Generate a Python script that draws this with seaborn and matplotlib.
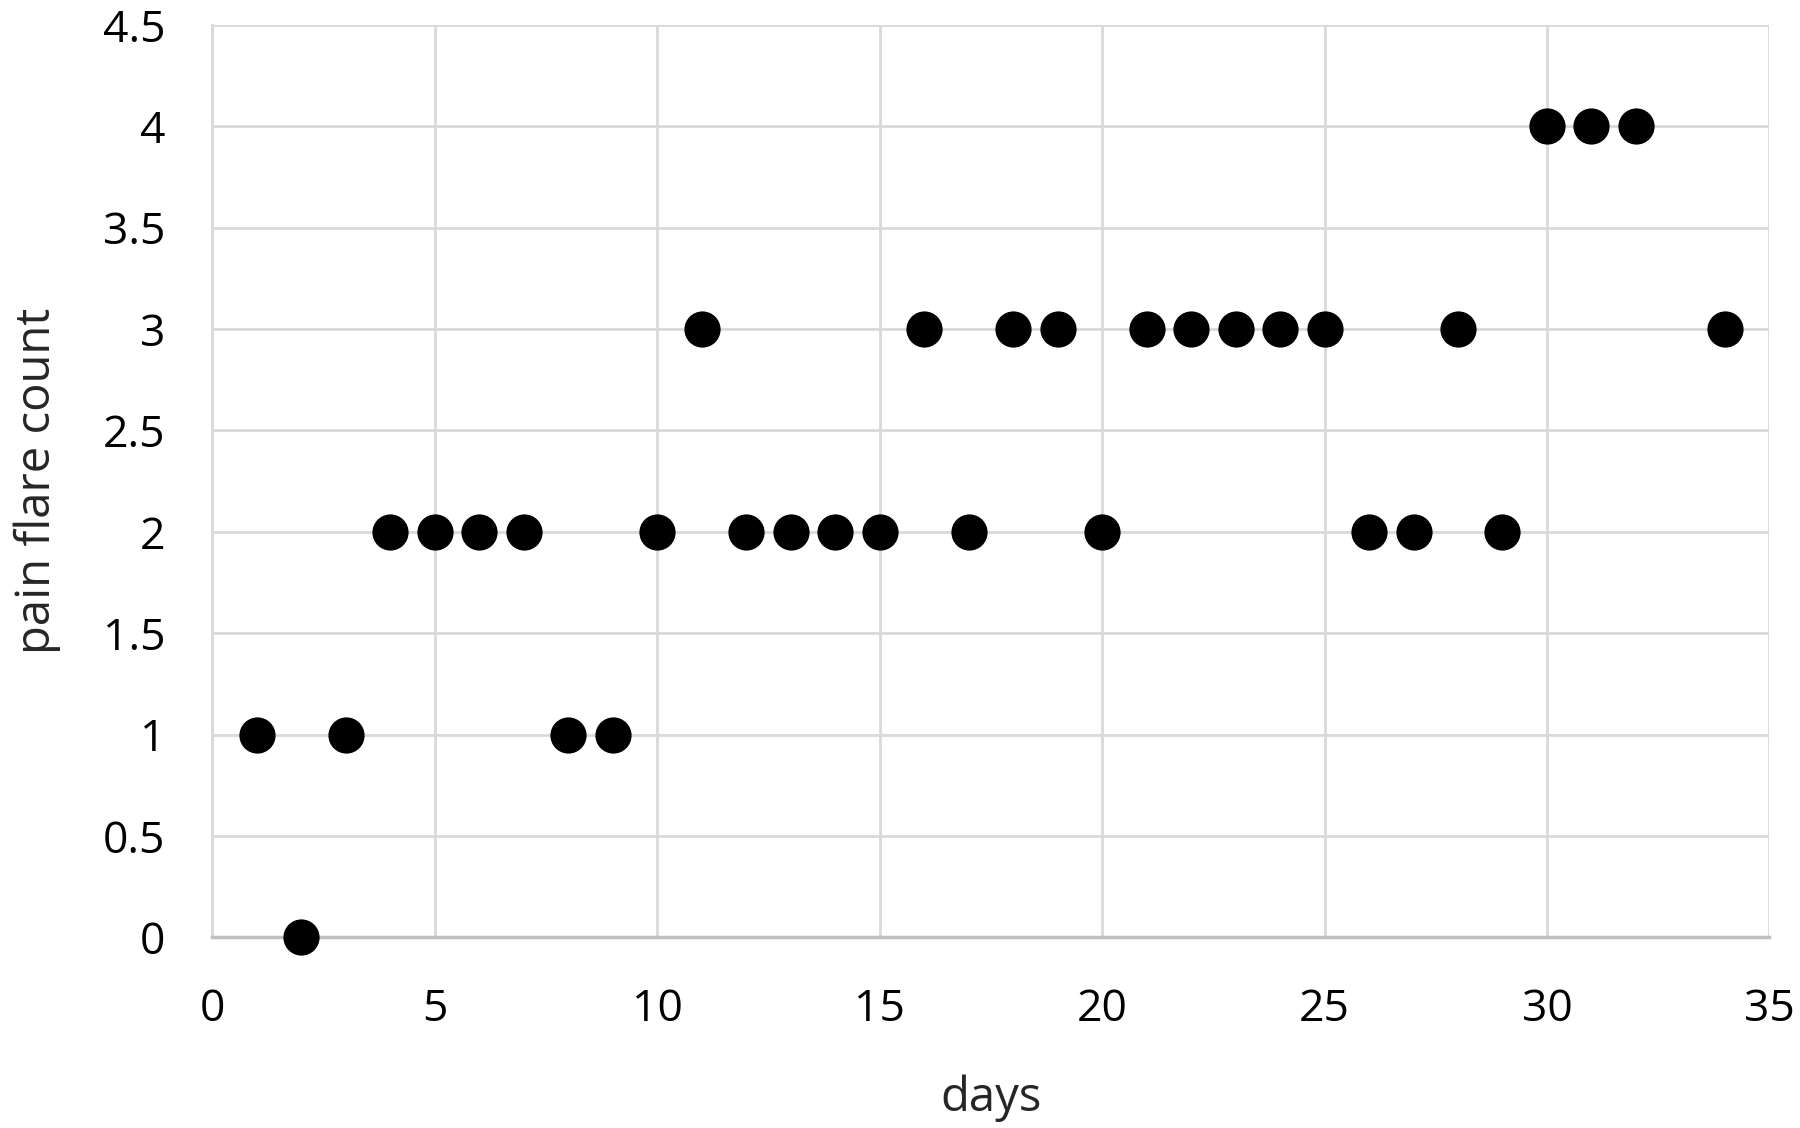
import matplotlib
matplotlib.use("Agg")
import matplotlib.pyplot as plt
import seaborn as sns
import pandas as pd

days = [1, 2, 3, 4, 5, 6, 7, 8, 9, 10, 11, 12, 13, 14, 15, 16, 17,
        18, 19, 20, 21, 22, 23, 24, 25, 26, 27, 28, 29, 30, 31, 32, 34]
flares = [1, 0, 1, 2, 2, 2, 2, 1, 1, 2, 3, 2, 2, 2, 2, 3, 2,
          3, 3, 2, 3, 3, 3, 3, 3, 2, 2, 3, 2, 4, 4, 4, 3]
x_ticks = [0, 5, 10, 15, 20, 25, 30, 35]
y_ticks = [0, 0.5, 1, 1.5, 2, 2.5, 3, 3.5, 4, 4.5]
y_tick_labels = ["0", "0.5", "1", "1.5", "2", "2.5", "3", "3.5", "4", "4.5"]

df = pd.DataFrame({"days": days, "pain flare count": flares})

sns.set_theme(style="white")
plt.rcParams['font.family'] = ['Open Sans', 'DejaVu Sans']

fig = plt.figure(figsize=(18, 11.28), dpi=100)
ax = fig.add_axes([0.118, 0.169, 0.865, 0.809])

sns.scatterplot(data=df, x="days", y="pain flare count", ax=ax,
                color="black", s=680, edgecolor="black", linewidth=0,
                zorder=3, clip_on=False)

ax.set_xlim(0, 35)
ax.set_ylim(0, 4.5)
ax.set_xticks(x_ticks)
ax.set_xticklabels([str(t) for t in x_ticks])
ax.set_yticks(y_ticks)
ax.set_yticklabels(y_tick_labels)
ax.grid(True, color="#d9d9d9", linewidth=2)
ax.set_axisbelow(True)
for side in ["top", "right"]:
    ax.spines[side].set_visible(False)
ax.spines["left"].set_color("#d9d9d9")
ax.spines["left"].set_linewidth(2)
ax.spines["bottom"].set_color("#bfbfbf")
ax.spines["bottom"].set_linewidth(2.5)
ax.tick_params(axis="both", labelsize=32, colors="black", length=0)
ax.tick_params(axis="x", pad=36)
ax.tick_params(axis="y", pad=34)
ax.set_xlabel("days", fontsize=34, labelpad=31)
ax.set_ylabel("pain flare count", fontsize=34, labelpad=30)

fig.savefig("out.png", dpi=100)
